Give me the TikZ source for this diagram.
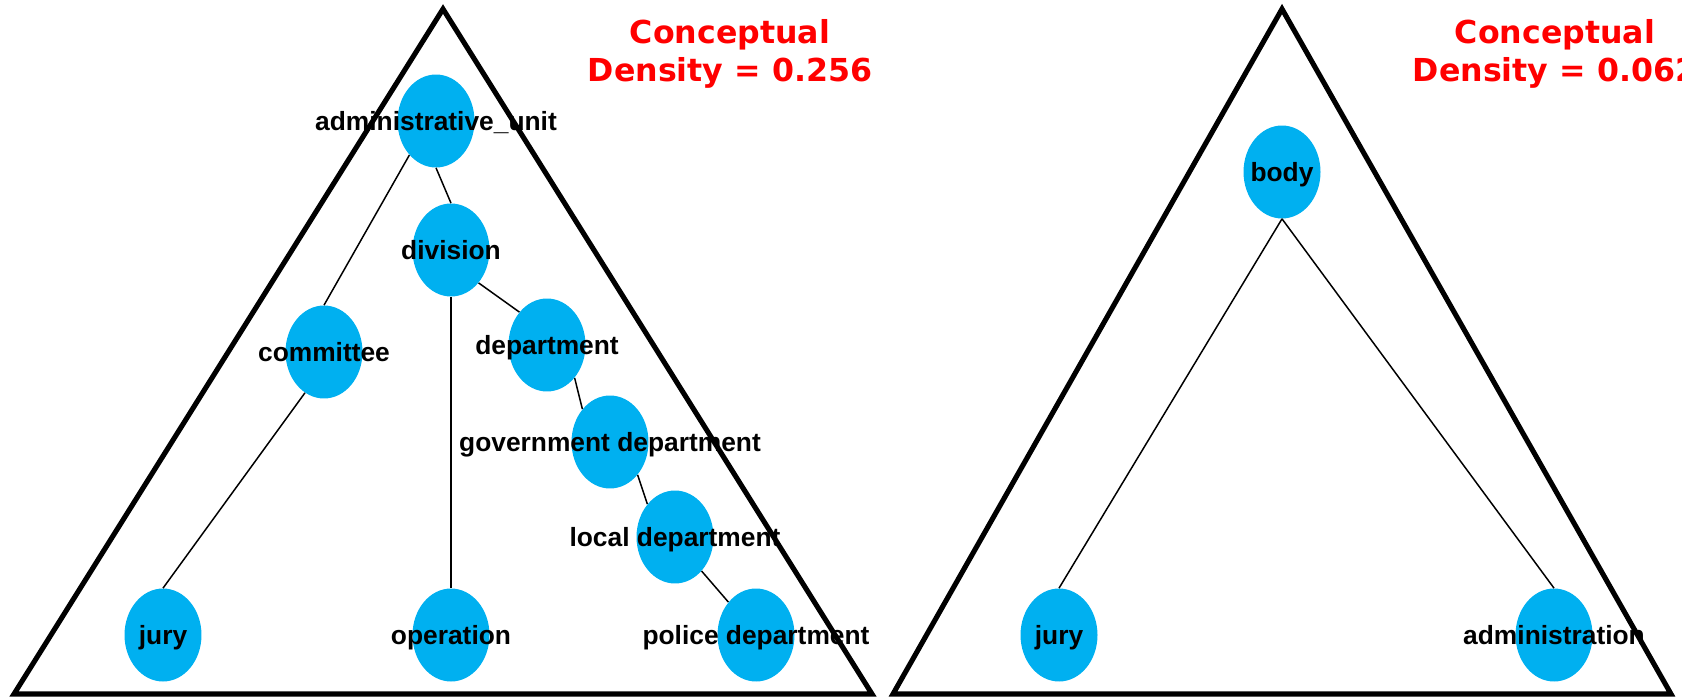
\documentclass[tikz,border=0pt]{standalone}
\usepackage{fontspec}
\newfontfamily\arialfont{Liberation Sans}
\newfontfamily\verdanafont{DejaVu Sans}
\usetikzlibrary{shapes.geometric}
\definecolor{cblue}{HTML}{00B0F0}
\definecolor{cred}{HTML}{FF0000}
\tikzset{
  concept/.style={ellipse, fill=cblue, inner sep=0pt, minimum width=1.54cm, minimum height=1.86cm},
  lbl/.style={font=\arialfont\bfseries\fontsize{15pt}{18pt}\selectfont, inner sep=0pt, text height=0.72em, text depth=0pt, yshift=-0.06cm},
  link/.style={line width=0.85pt},
  frame/.style={line width=2.9pt, line join=miter},
  title/.style={font=\verdanafont\bfseries\fontsize{18pt}{21.4pt}\selectfont, text=cred, align=center, inner sep=0pt, anchor=north},
}

\begin{document}
\begin{tikzpicture}[x=0.02cm, y=-0.02cm]
  \useasboundingbox (0,0) rectangle (1682,696);
  % left triangle
  \draw[frame] (443,9) -- (14,694) -- (872,694) -- cycle;
  \node[title] (ltitle) at (730,19.5) {Conceptual\\Density = 0.256};
  \node[concept, label={[lbl]center:administrative\_unit}] (admunit) at (436,121) {};
  \node[concept, label={[lbl]center:division}] (division) at (451,250) {};
  \node[concept, label={[lbl]center:committee}] (committee) at (324,352) {};
  \node[concept, label={[lbl]center:department}] (department) at (547,345) {};
  \node[concept, label={[lbl]center:government department}] (govdept) at (610,442) {};
  \node[concept, label={[lbl]center:local department}] (localdept) at (675,537) {};
  \node[concept, label={[lbl]center:jury}] (jury) at (163,635) {};
  \node[concept, label={[lbl]center:operation}] (operation) at (451,635) {};
  \node[concept, label={[lbl]center:police department}] (policedept) at (756,635) {};
  \draw[link] (admunit.south) -- (division.north);
  \draw[link] (admunit.-128) -- (committee.north);
  \draw[link] (committee.-115) -- (jury.north);
  \draw[link] (division.south) -- (operation.north);
  \draw[link] (division.-50) -- (department.130);
  \draw[link] (department.-50) -- (govdept.130);
  \draw[link] (govdept.-50) -- (localdept.130);
  \draw[link] (localdept.-52) -- (policedept.130);
  % right triangle
  \draw[frame] (1282,9) -- (893,694) -- (1671,694) -- cycle;
  \node[title] (rtitle) at (1555,19.5) {Conceptual\\Density = 0.062};
  \node[concept, label={[lbl]center:body}] (body) at (1282,172) {};
  \node[concept, label={[lbl]center:jury}] (rjury) at (1059,635) {};
  \node[concept, label={[lbl]center:administration}] (administration) at (1554,635) {};
  \draw[link] (body.south) -- (rjury.north);
  \draw[link] (body.south) -- (administration.north);
\end{tikzpicture}
\end{document}
